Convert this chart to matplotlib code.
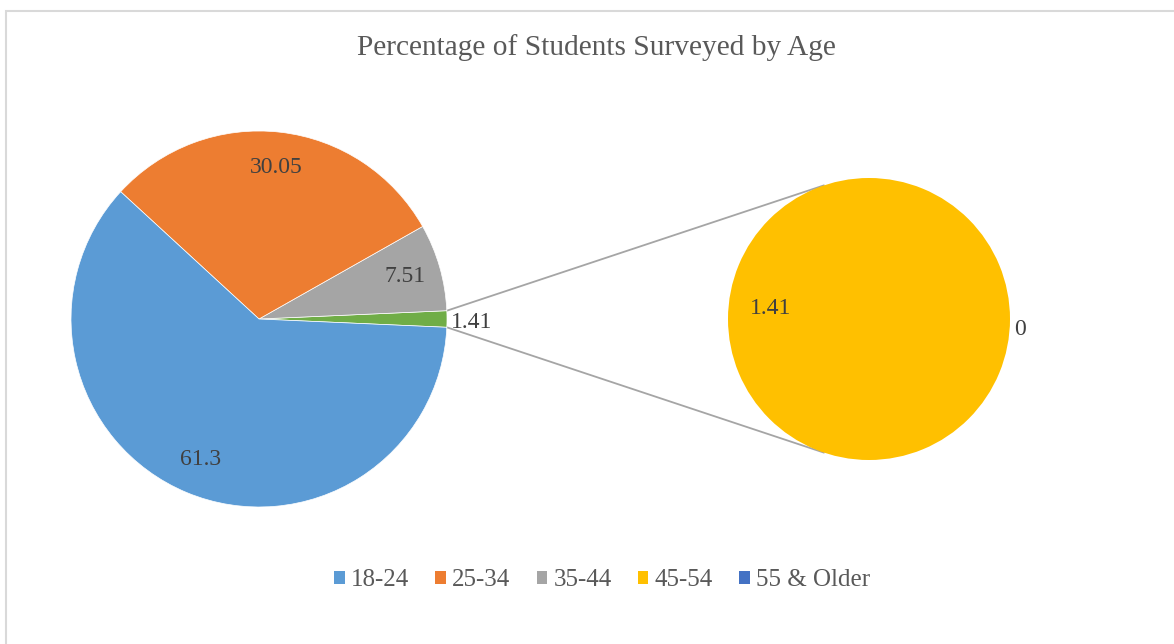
import numpy as np
import matplotlib
matplotlib.use("Agg")
import matplotlib.pyplot as plt
from matplotlib.patches import Patch, Rectangle

# ---- data -------------------------------------------------------------
categories = ["18-24", "25-34", "35-44", "45-54", "55 & Older"]
values = [61.3, 30.05, 7.51, 1.41, 0]
colors = ["#5B9BD5", "#ED7D31", "#A5A5A5", "#FFC000", "#4472C4"]
other_color = "#70AD47"
title = "Percentage of Students Surveyed by Age"

# last two groups are split out into the secondary pie
n_main = 3
other_value = sum(values[n_main:])
main_vals = [other_value, values[2], values[1], values[0]]
main_cols = [other_color, colors[2], colors[1], colors[0]]
sec_vals = values[n_main:]
sec_cols = colors[n_main:]

W, H = 1174, 644
fig = plt.figure(figsize=(W / 100, H / 100), dpi=100)
ax = fig.add_axes([0, 0, 1, 1])

serif = "Liberation Serif"
label_color = "#404040"
lab_size = 17

# pixel-like coordinate system (y up)
c1, r1 = (259, H - 319), 188
c2, r2 = (869, H - 319), 141

total = sum(main_vals)
start = -360 * other_value / total / 2
wedges, _ = ax.pie(main_vals, colors=main_cols, center=c1, radius=r1,
                   startangle=start, counterclock=True,
                   wedgeprops=dict(edgecolor="white", linewidth=0.5))

# labels of the first pie
for i, (w, v) in enumerate(zip(wedges, main_vals)):
    mid = np.deg2rad((w.theta1 + w.theta2) / 2)
    if i == 0:
        x = c1[0] + r1 * 1.02 * np.cos(mid)
        y = c1[1] + r1 * 1.02 * np.sin(mid) - 3
        ax.text(x, y, f"{v:g}", ha="left", va="center", fontsize=lab_size,
                family=serif, color=label_color)
    else:
        x = c1[0] + r1 * 0.81 * np.cos(mid)
        y = c1[1] + r1 * 0.81 * np.sin(mid)
        ax.text(x, y, f"{v:g}", ha="center", va="center", fontsize=lab_size,
                family=serif, color=label_color)

# secondary pie
sec_start = -6
wedges2, _ = ax.pie(sec_vals, colors=sec_cols, center=c2, radius=r2,
                    startangle=sec_start, counterclock=True,
                    wedgeprops=dict(linewidth=0))
for w, v in zip(wedges2, sec_vals):
    mid = np.deg2rad((w.theta1 + w.theta2) / 2)
    if v > 0:
        x = c2[0] + r2 * 0.70 * np.cos(mid)
        y = c2[1] + r2 * 0.70 * np.sin(mid)
    else:
        x = c2[0] + r2 * 1.08 * np.cos(mid)
        y = c2[1] + r2 * 1.08 * np.sin(mid) + 5
    ax.text(x, y, f"{v:g}", ha="center", va="center", fontsize=lab_size,
            family=serif, color=label_color)

# connector lines: from the edges of the "other" slice, tangent to pie 2
ow = wedges[0]
for th in (ow.theta1, ow.theta2):
    t = np.deg2rad(th)
    p = np.array([c1[0] + r1 * np.cos(t), c1[1] + r1 * np.sin(t)])
    d = p - np.array(c2)
    dist = np.hypot(*d)
    base = np.arctan2(d[1], d[0])
    off = np.arccos(r2 / dist)
    ang = base - off if th > 0 else base + off
    q = (c2[0] + r2 * np.cos(ang), c2[1] + r2 * np.sin(ang))
    ax.plot([p[0], q[0]], [p[1], q[1]], color="#A5A5A5", lw=1.3,
            solid_capstyle="butt", zorder=0.5)

# chart border
ax.add_patch(Rectangle((5.5, -20), W + 30, H - 10.5 + 20, fill=False,
                       edgecolor="#D9D9D9", lw=1.5, clip_on=True))

ax.set_xlim(0, W)
ax.set_ylim(0, H)
ax.set_aspect("equal")
ax.axis("off")

ax.text(596, H - 48, title, ha="center", va="center", fontsize=21.2,
        family=serif, color="#595959")

handles = [Patch(facecolor=c, edgecolor="none") for c in colors]
fig.legend(handles, categories, loc="center", ncol=5,
           bbox_to_anchor=(602 / W, 1 - 580 / H), frameon=False,
           prop=dict(family=serif, size=18), labelcolor="#595959",
           handlelength=0.42, handleheight=0.42, handletextpad=0.25,
           columnspacing=1.05)

fig.savefig("out.png", dpi=100)
